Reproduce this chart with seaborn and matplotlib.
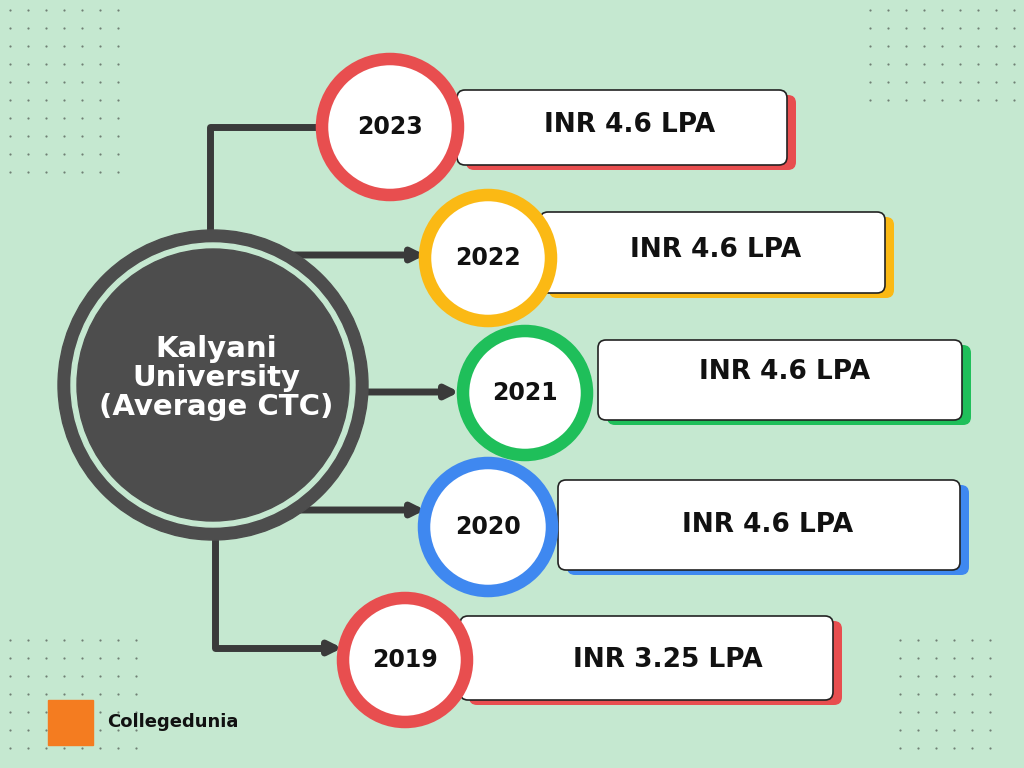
import matplotlib
matplotlib.use("Agg")
import matplotlib.pyplot as plt
import seaborn as sns
import numpy as np
from matplotlib.patches import Circle, FancyBboxPatch, Rectangle

sns.set_theme(style="white")
plt.rcParams['font.family'] = ['DejaVu Sans']

years = ["2023", "2022", "2021", "2020", "2019"]
values = ["INR 4.6 LPA", "INR 4.6 LPA", "INR 4.6 LPA", "INR 4.6 LPA", "INR 3.25 LPA"]
colors = ["#e84e4f", "#fbb914", "#1fbf5a", "#3f88f0", "#e84e4f"]
title = "Kalyani\nUniversity\n(Average CTC)"

# layout (pixel coordinates)
circ = [(390, 127, 68), (488, 258, 63), (525, 393, 62), (488, 527, 64), (405, 660, 62)]
boxes = [(457, 90, 787, 165), (540, 212, 885, 293), (598, 340, 962, 420), (558, 480, 960, 570), (460, 616, 833, 700)]
txtx = [630, 716, 785, 768, 668]
txty = [125, 250, 372, 525, 660]

bg = "#c5e8d0"
fig = plt.figure(figsize=(10.24, 7.68), dpi=100, facecolor=bg)
ax = fig.add_axes([0, 0, 1, 1])
ax.set_xlim(0, 1024); ax.set_ylim(768, 0); ax.axis("off"); ax.set_facecolor(bg)

for x0, y0, nx, ny in [(10, 10, 7, 10), (870, 10, 9, 6), (10, 640, 8, 7), (900, 640, 6, 7)]:
    xs, ys = np.meshgrid(np.arange(nx) * 18 + x0, np.arange(ny) * 18 + y0)
    ax.scatter(xs.ravel(), ys.ravel(), s=2.5, color="#2a2a2a", alpha=0.55, zorder=1, linewidths=0)

lc = "#3a3a3a"
lw = 5
ax.plot([210, 210, 322], [230, 127, 127], color=lc, lw=lw, zorder=2)
ax.plot([215, 215, 330], [535, 648, 648], color=lc, lw=lw, zorder=2)
for (x1, y), x2 in [((290, 255), 428), ((340, 392), 462), ((290, 510), 428), ((320, 648), 345)]:
    ax.annotate("", xy=(x2, y), xytext=(x1, y),
                arrowprops=dict(arrowstyle="-|>", color=lc, lw=lw, mutation_scale=18), zorder=2)

ax.add_patch(Circle((213, 385), 155, color="#4d4d4d", zorder=3))
ax.add_patch(Circle((213, 385), 142, color=bg, zorder=3))
ax.add_patch(Circle((213, 385), 136, color="#4d4d4d", zorder=3))
ax.text(216, 378, title, ha="center", va="center", color="white", fontsize=21,
        fontweight="bold", linespacing=1.05, zorder=4)

for yr, val, c, (cx, cy, r), (x0, y0, x1, y1), tx, ty in zip(years, values, colors, circ, boxes, txtx, txty):
    ax.add_patch(FancyBboxPatch((x0 + 9, y0 + 5), x1 - x0, y1 - y0, boxstyle="round,pad=0,rounding_size=8",
                                fc=c, ec="none", zorder=3))
    ax.add_patch(FancyBboxPatch((x0, y0), x1 - x0, y1 - y0, boxstyle="round,pad=0,rounding_size=8",
                                fc="white", ec="#222222", lw=1.2, zorder=4))
    ax.add_patch(Circle((cx, cy), r, fc="white", ec=c, lw=9, zorder=5))
    ax.text(cx, cy, yr, ha="center", va="center", fontsize=17, fontweight="bold", color="#111111", zorder=6)
    ax.text(tx, ty, val, ha="center", va="center", fontsize=19, fontweight="bold", color="#111111", zorder=6)

ax.add_patch(Rectangle((48, 700), 45, 45, color="#f47c20", zorder=3))
ax.text(107, 722, "Collegedunia", ha="left", va="center", fontsize=13, fontweight="bold", color="#111111")

fig.savefig("out.png", dpi=100, facecolor=bg)
